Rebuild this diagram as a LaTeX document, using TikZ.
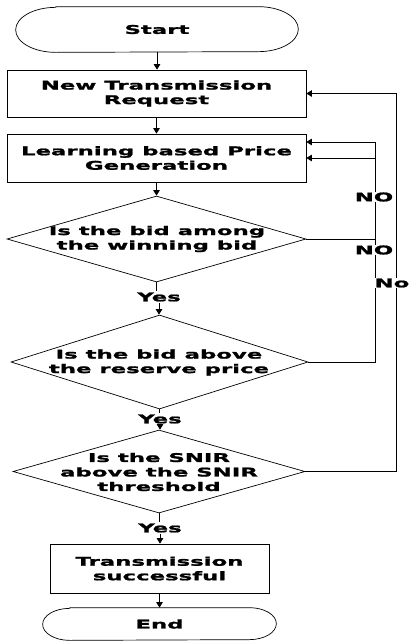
\documentclass[tikz,border=0pt]{standalone}
\usepackage{fontspec}
\newfontfamily\wf{DejaVu Sans}[FakeStretch=1.9,FakeBold=1.6]
\usetikzlibrary{arrows.meta,shapes.geometric}
\begin{document}
\begin{tikzpicture}[x=1pt,y=1pt,
  line width=0.7pt,
  txt/.style={font=\wf\bfseries\fontsize{12}{14.5}\selectfont, align=center, inner sep=1pt},
  boxnode/.style={draw, rectangle, inner sep=0pt},
  dianode/.style={draw, diamond, inner sep=0pt},
  arr/.style={-{Triangle[length=5.5pt,width=6.5pt]}},
  lbl/.style={txt, fill=white, inner sep=0.5pt}
]
\useasboundingbox (0,0) rectangle (411,-641);

% terminals
\node[txt, minimum width=282, minimum height=45, inner sep=0pt] (start) at (157,-29.5) {Start};
\draw ([xshift=40pt]start.north west) -- ([xshift=-40pt]start.north east)
  arc[start angle=90,end angle=-90,x radius=40pt,y radius=22.5pt]
  -- ([xshift=40pt]start.south west)
  arc[start angle=270,end angle=90,x radius=40pt,y radius=22.5pt] -- cycle;

\node[txt, minimum width=233, minimum height=32, inner sep=0pt] (end) at (159.5,-624) {End};
\draw ([xshift=27pt]end.north west) -- ([xshift=-27pt]end.north east)
  arc[start angle=90,end angle=-90,x radius=27pt,y radius=16pt]
  -- ([xshift=27pt]end.south west)
  arc[start angle=270,end angle=90,x radius=27pt,y radius=16pt] -- cycle;

% boxes
\node[boxnode, minimum width=299, minimum height=47] (b1) at (156.5,-93.5) {};
\node[txt] (t1) at (b1) {New Transmission\\Request};
\node[boxnode, minimum width=299, minimum height=48] (b2) at (156.5,-158) {};
\node[txt] (t2) at (b2) {Learning based Price\\Generation};
\node[boxnode, minimum width=219, minimum height=49] (b3) at (159.5,-568.5) {};
\node[txt] (t3) at (b3) {Transmission\\successful};

% diamonds
\node[dianode, minimum width=299, minimum height=86] (d1) at (156.5,-239) {};
\node[txt] (td1) at (157,-239) {Is the bid among\\the winning bid};
\node[dianode, minimum width=297, minimum height=94] (d2) at (159.5,-362) {};
\node[txt] (td2) at (159,-362.5) {Is the bid above\\the reserve price};
\node[dianode, minimum width=292, minimum height=83] (d3) at (159,-471.5) {};
\node[txt] (td3) at (159,-472) {Is the SNIR\\above the SNIR\\threshold};

% yes labels
\node[txt] (y1) at (159,-297) {Yes};
\node[txt] (y2) at (160,-419) {Yes};
\node[txt] (y3) at (160,-528) {Yes};

% main flow
\draw[arr] (start.south) -- (start.south |- b1.north);
\draw[arr] (b1.south) -- (b2.north);
\draw[arr] (b2.south) -- (b2.south |- d1.north);
\draw (d1.south) -- (d1.south |- y1.north);
\draw[arr] (y1.south) -- (y1.south |- d2.north);
\draw (d2.south) -- (d2.south |- y2.north);
\draw[arr] (y2.south) -- (y2.south |- d3.north);
\draw (d3.south) -- (d3.south |- y3.north);
\draw[arr] (y3.south) -- (y3.south |- b3.north);
\draw[arr] (b3.south) -- (b3.south |- end.north);

% loops
\coordinate (xin) at (375,0);
\coordinate (xout) at (396,0);
\coordinate (b2n) at ([yshift=16pt]b2.east);
\draw[arr] (d1.east) -- (d1.east -| xin) -- (xin |- b2.east) -- (b2.east);
\draw[arr] (d2.east) -- (d2.east -| xin) -- (xin |- b2n) -- (b2n);
\draw[arr] (d3.east) -- (d3.east -| xout) -- (xout |- b1.east) -- (b1.east);

\node[lbl] (no1) at (374,-197) {NO};
\node[lbl] (no2) at (374,-250) {NO};
\node[lbl] (no3) at (392,-283) {No};
\end{tikzpicture}
\end{document}
